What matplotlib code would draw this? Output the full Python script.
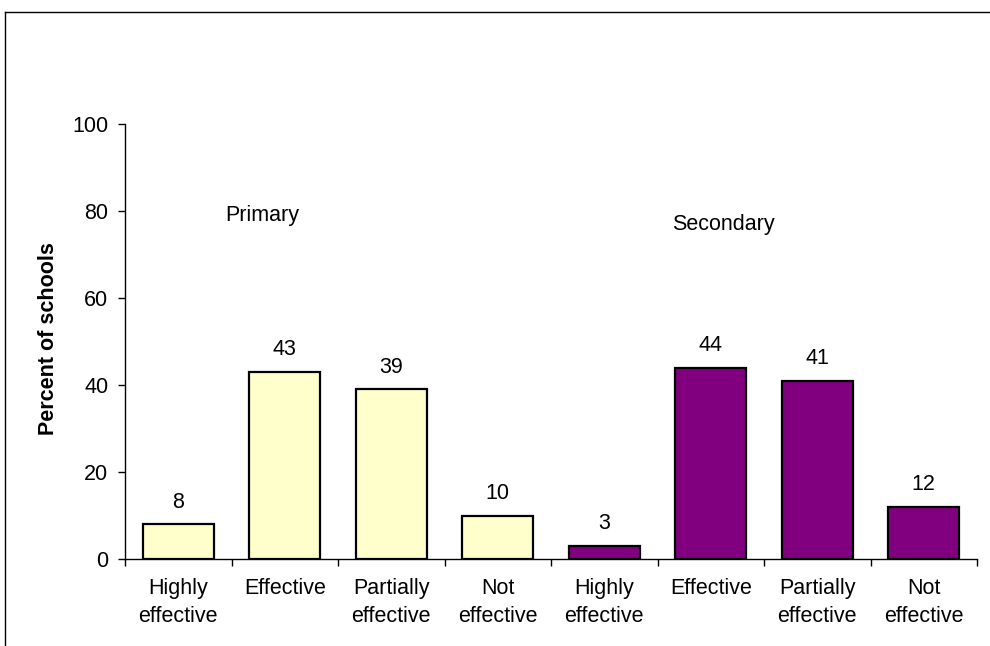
import matplotlib
matplotlib.use("Agg")
import matplotlib.pyplot as plt
from matplotlib.lines import Line2D
import numpy as np

plt.rcParams['font.family'] = ['Liberation Sans', 'DejaVu Sans']

categories = ["Highly\neffective", "Effective", "Partially\neffective", "Not\neffective",
              "Highly\neffective", "Effective", "Partially\neffective", "Not\neffective"]
primary_values = [8, 43, 39, 10]
secondary_values = [3, 44, 41, 12]
group_labels = ["Primary", "Secondary"]
y_ticks = [0, 20, 40, 60, 80, 100]

W, H = 990, 646
L, R, T, B = 125, 977, 124, 559
fig = plt.figure(figsize=(W / 100, H / 100), dpi=100)
ax = fig.add_axes([L / W, (H - B) / H, (R - L) / W, (B - T) / H])

n = len(categories)
x = np.arange(n)
values = primary_values + secondary_values
colors = ["#FFFFCC"] * len(primary_values) + ["#800080"] * len(secondary_values)
ax.bar(x, values, width=0.67, color=colors, edgecolor="black", linewidth=1.6, zorder=3)

fs = 15.5
for xi, v in zip(x, values):
    ax.annotate(str(v), (xi, v), xytext=(0, 12), textcoords="offset points",
                ha="center", va="baseline", fontsize=fs)

ax.set_xlim(-0.5, n - 0.5)
ax.set_ylim(0, 100)
ax.set_yticks(y_ticks)
ax.set_xticks(x)
ax.set_xticklabels(categories, fontsize=fs, linespacing=1.4)
ax.set_xticks(np.arange(-0.5, n, 1.0), minor=True)
ax.tick_params(axis="x", which="major", length=0, pad=14)
ax.tick_params(axis="x", which="minor", length=5, width=1, direction="out")
ax.tick_params(axis="y", length=5, width=1, direction="out", labelsize=fs, pad=7)

for s in ["top", "right"]:
    ax.spines[s].set_visible(False)
for s in ["left", "bottom"]:
    ax.spines[s].set_linewidth(1)

ax.set_ylabel("Percent of schools", fontsize=fs, fontweight="bold")
ax.yaxis.set_label_coords((59 - L) / (R - L), 0.507)

ax.text(0.786, 78.9, group_labels[0], fontsize=fs, ha="center", va="center")
ax.text(5.115, 77.0, group_labels[1], fontsize=fs, ha="center", va="center")

# outer frame (top and left visible)
fig.add_artist(Line2D([5 / W, 1.0], [1 - 12 / H, 1 - 12 / H], color="black", linewidth=1, transform=fig.transFigure))
fig.add_artist(Line2D([5 / W, 5 / W], [0, 1 - 12 / H], color="black", linewidth=1, transform=fig.transFigure))

fig.savefig("out.png", dpi=100)
